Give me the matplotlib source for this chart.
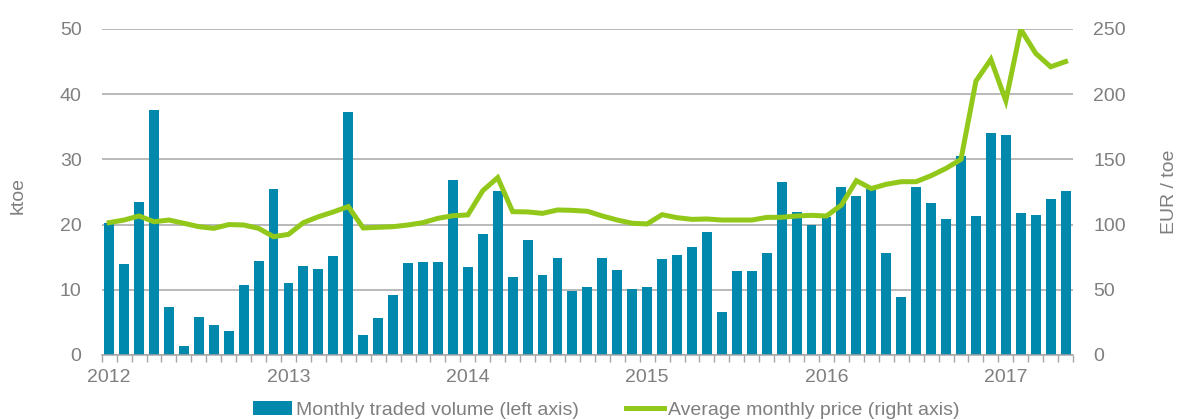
import numpy as np
import matplotlib
matplotlib.use("Agg")
import matplotlib.pyplot as plt
from matplotlib.lines import Line2D
from matplotlib.patches import Patch

# Monthly series, Jan 2012 - May 2017
volume_ktoe = [
    20.3, 13.9, 23.4, 37.5, 7.4, 1.4, 5.8, 4.6, 3.7, 10.7, 14.4, 25.4,   # 2012
    11.1, 13.7, 13.2, 15.2, 37.3, 3.1, 5.6, 9.2, 14.1, 14.2, 14.2, 26.8,  # 2013
    13.5, 18.6, 25.1, 11.9, 17.7, 12.2, 14.8, 9.8, 10.4, 14.9, 13.1, 10.1,  # 2014
    10.4, 14.7, 15.4, 16.6, 18.9, 6.6, 12.9, 12.9, 15.6, 26.5, 22.0, 20.0,  # 2015
    21.2, 25.7, 24.4, 25.4, 15.7, 8.9, 25.8, 23.3, 20.8, 30.5, 21.3, 34.0,  # 2016
    33.7, 21.8, 21.5, 23.9, 25.2,                                        # 2017
]
price_eur_toe = [
    101.5, 103.5, 106.6, 102.2, 103.5, 101.0, 98.4, 97.1, 100.0, 99.7, 97.1, 90.7,
    92.5, 101.5, 106.0, 109.7, 113.8, 97.4, 97.9, 98.4, 99.7, 101.5, 104.8, 106.8,
    107.4, 126.0, 136.0, 109.9, 109.7, 108.6, 111.2, 110.9, 110.2, 106.6, 103.5, 101.0,
    100.5, 107.6, 105.3, 104.0, 104.3, 103.5, 103.5, 103.5, 105.5, 105.6, 106.6, 107.1,
    106.6, 115.0, 133.7, 127.6, 130.9, 132.9, 132.9, 137.5, 143.1, 150.0, 210.0, 226.7,
    195.0, 249.7, 231.3, 221.0, 225.0,
]
year_labels = ["2012", "2013", "2014", "2015", "2016", "2017"]

BAR_COLOR = "#0088AD"
LINE_COLOR = "#92C81A"
TEXT_COLOR = "#7F7F7F"
GRID_COLOR = "#A6A6A6"

plt.rcParams["font.family"] = ["Liberation Sans", "DejaVu Sans"]
plt.rcParams["font.size"] = 14

fig = plt.figure(figsize=(11.81, 4.2), dpi=100)
ax = fig.add_axes([0.0861, 0.1548, 0.8225, 0.7762])

x = np.arange(len(volume_ktoe))
ax.bar(x, volume_ktoe, width=0.66, color=BAR_COLOR, zorder=2)
ax.set_xlim(-0.5, len(x) - 0.5)
ax.set_ylim(0, 50)
ax.set_yticks(np.arange(0, 51, 10))
ax.set_axisbelow(True)
ax.grid(axis="y", color=GRID_COLOR, linewidth=1.1)

# month boundary tick marks, year labels centred on January
ax.set_xticks(np.arange(-0.5, len(x), 1.0), minor=True)
ax.set_xticks(np.arange(0, len(x), 12))
ax.set_xticklabels(year_labels)
ax.tick_params(axis="x", which="minor", length=5, width=1, color=GRID_COLOR, direction="out")
ax.tick_params(axis="x", which="major", length=0, pad=10, labelcolor=TEXT_COLOR, labelsize=14)
ax.tick_params(axis="y", length=0, pad=14.5, labelcolor=TEXT_COLOR, labelsize=14)

for side in ["top", "left", "right"]:
    ax.spines[side].set_visible(False)
ax.spines["bottom"].set_color(GRID_COLOR)
ax.spines["bottom"].set_linewidth(1.1)

ax.set_ylabel("ktoe", color=TEXT_COLOR, fontsize=14, va="center")
ax.yaxis.set_label_coords(-0.086, 0.49)

ax2 = ax.twinx()
ax2.plot(x, price_eur_toe, color=LINE_COLOR, linewidth=3.6, solid_joinstyle="miter", zorder=3)
ax2.set_ylim(0, 250)
ax2.set_yticks(np.arange(0, 251, 50))
ax2.tick_params(axis="y", length=0, pad=14.5, labelcolor=TEXT_COLOR, labelsize=14)
for side in ["top", "left", "right", "bottom"]:
    ax2.spines[side].set_visible(False)
ax2.set_ylabel("EUR / toe", color=TEXT_COLOR, fontsize=14, va="center")
ax2.yaxis.set_label_coords(1.099, 0.5)

handles = [
    Patch(facecolor=BAR_COLOR, edgecolor="none"),
    Line2D([0], [0], color=LINE_COLOR, linewidth=3.6),
]
labels = ["Monthly traded volume (left axis)", "Average monthly price (right axis)"]
leg = fig.legend(handles, labels, loc="center", bbox_to_anchor=(0.5136, 0.024),
                 ncol=2, frameon=False, fontsize=14, handlelength=2.0,
                 handleheight=0.75, handletextpad=0.2, columnspacing=2.4)
for t in leg.get_texts():
    t.set_color(TEXT_COLOR)

fig.savefig("out.png", dpi=100, facecolor="white")
